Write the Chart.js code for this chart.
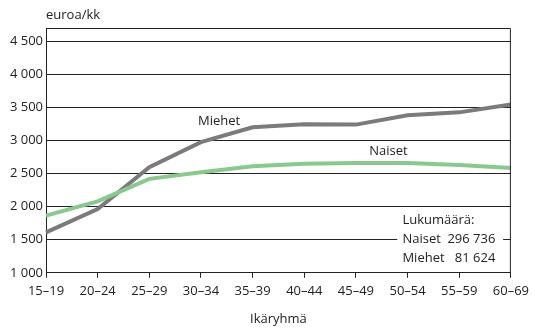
<!DOCTYPE html>
<html>
<head>
<meta charset="utf-8">
<script src="https://cdn.jsdelivr.net/npm/chart.js@4"></script>
<style>
  html, body { margin: 0; padding: 0; background: #fff; }
  #wrap { width: 535px; height: 328px; position: relative; }
</style>
</head>
<body>
<div id="wrap"><canvas id="palkkaChart"></canvas></div>
<script>
// Ansiot ikäryhmittäin
var ageGroups = ['15\u201319', '20\u201324', '25\u201329', '30\u201334', '35\u201339', '40\u201344', '45\u201349', '50\u201354', '55\u201359', '60\u201369'];
var naiset = [1865, 2080, 2420, 2520, 2610, 2650, 2660, 2660, 2630, 2585];
var miehet = [1610, 1965, 2595, 2975, 3200, 3245, 3240, 3380, 3425, 3545];
var yTicks = [1000, 1500, 2000, 2500, 3000, 3500, 4000, 4500];
var countLines = [['Naiset', '296 736'], ['Miehet', '81 624']];

var FONT = '"Open Sans", sans-serif';
Chart.defaults.font.family = FONT;
Chart.defaults.font.size = 13;
Chart.defaults.color = '#222';

function fmt(v) {
    return String(v).replace(/\B(?=(\d{3})+(?!\d))/g, ' ');
}

var labelsPlugin = {
    id: 'labelsPlugin',
    afterDatasetsDraw: function (chart) {
        var c = chart.ctx, x = chart.scales.x, y = chart.scales.y, a = chart.chartArea;
        c.save();
        // frame top + right
        c.strokeStyle = '#222';
        c.lineWidth = 1;
        c.beginPath();
        c.moveTo(a.left, a.top + 0.5);
        c.lineTo(a.right - 0.5, a.top + 0.5);
        c.lineTo(a.right - 0.5, a.bottom);
        c.stroke();

        c.font = '13px ' + FONT;
        c.fillStyle = '#222';
        c.textBaseline = 'middle';

        // unit
        c.textAlign = 'left';
        c.fillText('euroa/kk', a.left, a.top - 13);

        // series names
        c.textAlign = 'center';
        c.fillText('Miehet', x.getPixelForValue(3.35), y.getPixelForValue(3290));
        c.fillText('Naiset', x.getPixelForValue(6.63), y.getPixelForValue(2840));

        // count box
        var bx0 = x.getPixelForValue(6.8), bx1 = x.getPixelForValue(8.85);
        var top = y.getPixelForValue(1900), bot = y.getPixelForValue(1130);
        c.fillStyle = '#fff';
        c.fillRect(bx0, top, bx1 - bx0, bot - top);
        c.fillStyle = '#222';
        var tx = x.getPixelForValue(6.9), nx = x.getPixelForValue(8.7);
        c.textAlign = 'left';
        c.fillText('Lukum\u00e4\u00e4r\u00e4:', tx, y.getPixelForValue(1800));
        countLines.forEach(function (row, i) {
            var ly = y.getPixelForValue(1510 - i * 288);
            c.textAlign = 'left';
            c.fillText(row[0], tx, ly);
            c.textAlign = 'right';
            c.fillText(row[1], nx, ly);
        });
        c.restore();
    }
};

new Chart(document.getElementById('palkkaChart'), {
    type: 'line',
    data: {
        labels: ageGroups,
        datasets: [{
            label: 'Naiset', data: naiset,
            borderColor: '#86cb8b', borderWidth: 4, tension: 0,
            pointRadius: 0, fill: false
        }, {
            label: 'Miehet', data: miehet,
            borderColor: '#7b7b7e', borderWidth: 4, tension: 0,
            pointRadius: 0, fill: false
        }]
    },
    options: {
        responsive: true, maintainAspectRatio: false, animation: false,
        layout: { padding: { top: 28, right: 22, bottom: 1, left: 0 } },
        plugins: { legend: { display: false }, tooltip: { enabled: false } },
        scales: {
            x: {
                offset: false,
                grid: { display: true, drawOnChartArea: false, drawTicks: true, tickLength: 5, color: '#222' },
                border: { display: true, color: '#222' },
                ticks: { padding: 6, maxRotation: 0, autoSkip: false, color: '#222' },
                title: { display: true, text: 'Ik\u00e4ryhm\u00e4', padding: { top: 6, bottom: 0 }, color: '#222' }
            },
            y: {
                min: 1000, max: 4700,
                afterBuildTicks: function (axis) {
                    axis.ticks = yTicks.map(function (v) { return { value: v }; });
                },
                afterFit: function (axis) { axis.width = 46; },
                grid: { color: '#222', drawTicks: false },
                border: { display: true, color: '#222' },
                ticks: { padding: 3, color: '#222', callback: function (v) { return fmt(v); } }
            }
        }
    },
    plugins: [labelsPlugin]
});
</script>
</body>
</html>
